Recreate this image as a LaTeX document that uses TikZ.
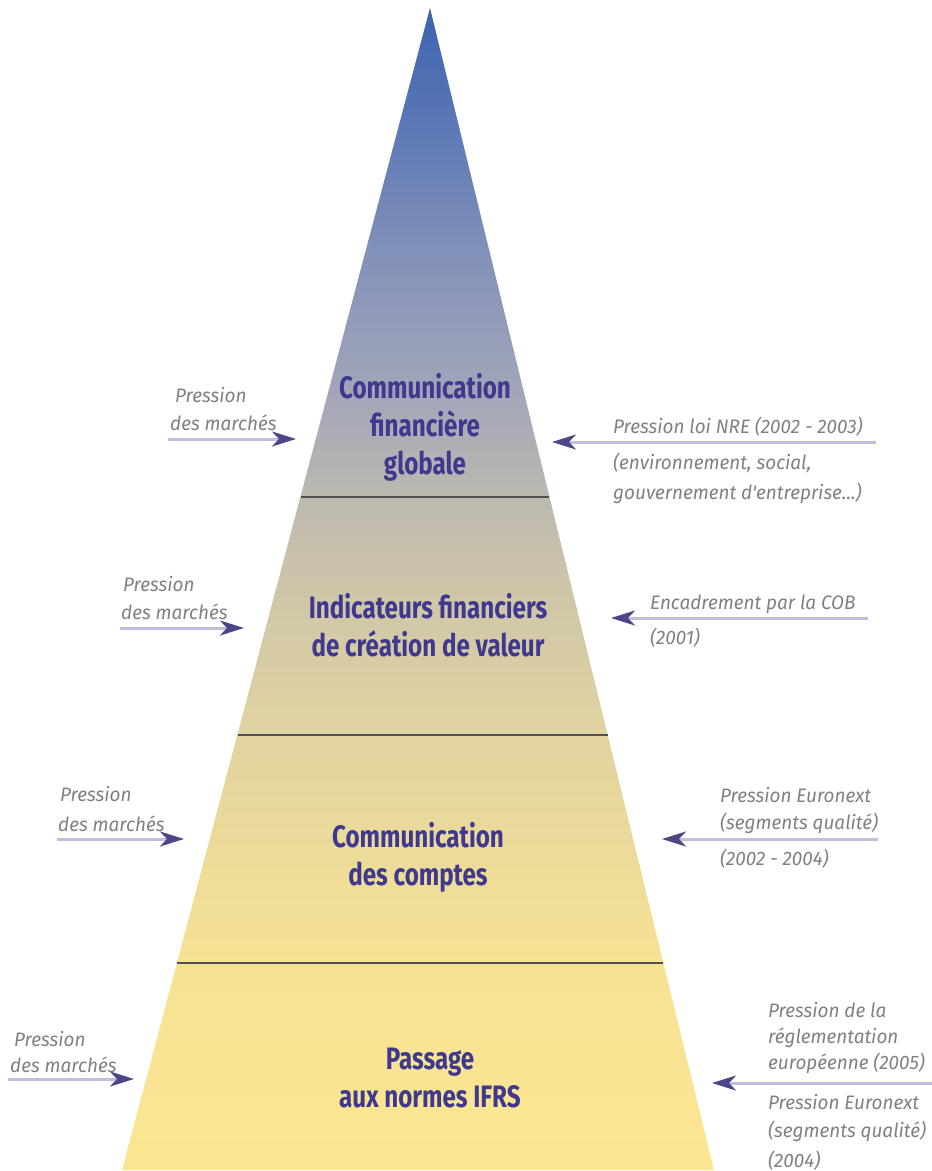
\documentclass[tikz,border=0pt]{standalone}
\usepackage{fontspec}
\setmainfont{Fira Sans}
\newfontfamily\titlefont{Fira Sans}[FakeStretch=0.78]
\newfontfamily\sidefont{Fira Sans}[FakeStretch=0.97]
\usetikzlibrary{arrows.meta}

\definecolor{titleblue}{RGB}{62,56,142}
\definecolor{sidegray}{RGB}{128,128,128}
\definecolor{linelav}{RGB}{192,190,218}
\definecolor{headdark}{RGB}{74,70,136}
\definecolor{divider}{RGB}{80,80,80}

% vertical shading of the pyramid, bottom (yellow) to apex (blue);
% the path is fitted to the 25bp--75bp band of the shading
\pgfdeclareverticalshading{pyramidshade}{100bp}{%
  rgb(0bp)=(0.980,0.902,0.569);
  rgb(25bp)=(0.980,0.902,0.569);
  rgb(34bp)=(0.965,0.886,0.580);
  rgb(43.5bp)=(0.886,0.831,0.627);
  rgb(49.5bp)=(0.816,0.776,0.659);
  rgb(54bp)=(0.737,0.725,0.686);
  rgb(58bp)=(0.647,0.655,0.725);
  rgb(64.5bp)=(0.510,0.569,0.725);
  rgb(71bp)=(0.333,0.451,0.706);
  rgb(75bp)=(0.235,0.392,0.686);
  rgb(100bp)=(0.235,0.392,0.686)}

\tikzset{
  level/.style={text=titleblue, align=center,
    font={\titlefont\bfseries\fontsize{31}{38}\selectfont}},
  side/.style={text=sidegray, inner sep=0pt,
    font={\sidefont\itshape\fontsize{19.5}{22}\selectfont}},
  push/.style={draw=linelav, line width=3pt,
    -{Stealth[length=24pt,width=15pt,inset=7pt,color=headdark]}},
  sep/.style={draw=divider, line width=1.6pt}
}

\begin{document}
\begin{tikzpicture}[x=1pt,y=-1pt]
\useasboundingbox (0,0) rectangle (932,1171);

% pyramid body
\coordinate (apex) at (430,8);
\coordinate (bl) at (122,1170);
\coordinate (br) at (714,1170);
\shade[shading=pyramidshade] (apex) -- (br) -- (bl) -- cycle;

% level separators
\coordinate (s1l) at (301,497);  \coordinate (s1r) at (549,497);
\coordinate (s2l) at (238,735);  \coordinate (s2r) at (608,735);
\coordinate (s3l) at (177,963);  \coordinate (s3r) at (663,963);
\draw[sep] (s1l) -- (s1r);
\draw[sep] (s2l) -- (s2r);
\draw[sep] (s3l) -- (s3r);

% level titles
\node[level] (t1) at (425,427) {Communication\\financière\\globale};
\node[level] (t2) at (428,625) {Indicateurs financiers\\de création de valeur};
\node[level] (t3) at (418,857) {Communication\\des comptes};
\node[level] (t4) at (430,1078) {Passage\\aux normes IFRS};

% market pressure, left side
\node[side, anchor=base west] (la1) at (175,402) {Pression};
\node[side, anchor=base west] (lb1) at (170,430) {des marchés};
\coordinate (lf1) at (168,439); \coordinate (lt1) at (296,439);
\draw[push] (lf1) -- (lt1);

\node[side, anchor=base west] (la2) at (123,591) {Pression};
\node[side, anchor=base west] (lb2) at (121,619) {des marchés};
\coordinate (lf2) at (120,628); \coordinate (lt2) at (244,628);
\draw[push] (lf2) -- (lt2);

\node[side, anchor=base west] (la3) at (60,801) {Pression};
\node[side, anchor=base west] (lb3) at (58,831) {des marchés};
\coordinate (lf3) at (57,839); \coordinate (lt3) at (184,839);
\draw[push] (lf3) -- (lt3);

\node[side, anchor=base west] (la4) at (14,1046) {Pression};
\node[side, anchor=base west] (lb4) at (10,1072) {des marchés};
\coordinate (lf4) at (8,1079); \coordinate (lt4) at (134,1079);
\draw[push] (lf4) -- (lt4);

% regulatory pressure, right side
\node[side, anchor=base west] (ra1) at (613,433) {Pression loi NRE (2002 - 2003)};
\node[side, anchor=base west] (rb1) at (613,469) {(environnement, social,};
\node[side, anchor=base west] (rc1) at (613,499) {gouvernement d'entreprise...)};
\coordinate (rf1) at (876,442); \coordinate (rt1) at (552,442);
\draw[push] (rf1) -- (rt1);

\node[side, anchor=base west] (ra2) at (650,609) {Encadrement par la COB};
\node[side, anchor=base west] (rb2) at (650,644) {(2001)};
\coordinate (rf2) at (868,618); \coordinate (rt2) at (611,618);
\draw[push] (rf2) -- (rt2);

\node[side, anchor=base west] (ra3) at (720,802) {Pression Euronext};
\node[side, anchor=base west] (rb3) at (720,829) {(segments qualité)};
\node[side, anchor=base west] (rc3) at (720,865) {(2002 - 2004)};
\coordinate (rf3) at (878,839); \coordinate (rt3) at (662,839);
\draw[push] (rf3) -- (rt3);

\node[side, anchor=base west] (ra4) at (768,1017) {Pression de la};
\node[side, anchor=base west] (rb4) at (768,1043) {réglementation};
\node[side, anchor=base west] (rc4) at (768,1069) {européenne (2005)};
\node[side, anchor=base west] (rd4) at (768,1109) {Pression Euronext};
\node[side, anchor=base west] (re4) at (768,1137) {(segments qualité)};
\node[side, anchor=base west] (rf4t) at (768,1167) {(2004)};
\coordinate (rf4) at (932,1083); \coordinate (rt4) at (712,1083);
\draw[push] (rf4) -- (rt4);
\end{tikzpicture}
\end{document}
